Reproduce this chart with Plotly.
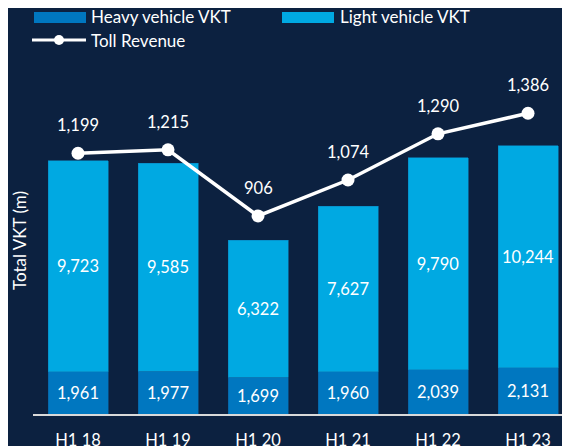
import plotly.graph_objects as go

periods = ["H1 18", "H1 19", "H1 20", "H1 21", "H1 22", "H1 23"]
heavy_vkt = [1961, 1977, 1699, 1960, 2039, 2131]
light_vkt = [9723, 9585, 6322, 7627, 9790, 10244]
toll_revenue = [1199, 1215, 906, 1074, 1290, 1386]

BG = "#0c2140"
HEAVY = "#0077c0"
LIGHT = "#00a9e2"
FONT = "Lato"
OFF = 8  # page body margin offset
W, H = 570, 446
# plot area in window coords: left 33, top 60, bottom 414
L = 33 - OFF
T = 60 - OFF
B = H - (414 - OFF)
R = 0
PW, PH = W - L - R, H - T - B


def px(x):
    return (x - OFF - L) / PW


def py(y):
    return (H - B - (y - OFF)) / PH


fig = go.Figure()
fig.add_trace(go.Bar(
    x=periods, y=heavy_vkt, name="Heavy vehicle VKT",
    marker=dict(color=HEAVY, line=dict(color="#0a5f9c", width=0.6)),
    text=[f"{v:,}" for v in heavy_vkt], textposition="inside",
    insidetextanchor="middle", textfont=dict(color="white", size=16.5, family=FONT),
    showlegend=False,
))
fig.add_trace(go.Bar(
    x=periods, y=light_vkt, name="Light vehicle VKT",
    marker=dict(color=LIGHT, line=dict(color="#0a86c0", width=0.6)),
    text=[f"{v:,}" for v in light_vkt], textposition="inside",
    insidetextanchor="middle", textfont=dict(color="white", size=16.5, family=FONT),
    showlegend=False,
))
fig.add_trace(go.Scatter(
    x=periods, y=toll_revenue, name="Toll Revenue", yaxis="y2",
    mode="lines+markers", line=dict(color="white", width=3.5),
    marker=dict(color="white", size=13), showlegend=False, cliponaxis=False,
))

annotations = []
for p, v in zip(periods, toll_revenue):
    annotations.append(dict(
        x=p, y=v, xref="x", yref="y2", text=f"{v:,}", showarrow=False,
        yshift=28, font=dict(color="white", size=16.5, family=FONT),
    ))

annotations.append(dict(
    x=px(19), y=py(241), xref="paper", yref="paper", text="Total VKT (m)",
    textangle=-90, showarrow=False, xanchor="center", yanchor="middle",
    font=dict(color="white", size=17, family=FONT),
))

# custom legend
shapes = [
    dict(type="rect", xref="paper", yref="paper", x0=px(34), x1=px(86),
         y0=py(23), y1=py(12), fillcolor=HEAVY, line=dict(width=0)),
    dict(type="rect", xref="paper", yref="paper", x0=px(282), x1=px(334),
         y0=py(23), y1=py(12), fillcolor=LIGHT, line=dict(width=0)),
    dict(type="line", xref="paper", yref="paper", x0=px(32), x1=px(86),
         y0=py(40), y1=py(40), line=dict(color="white", width=3)),
    dict(type="circle", xref="paper", yref="paper", x0=px(54), x1=px(64),
         y0=py(45), y1=py(35), fillcolor="white", line=dict(width=0)),
]
for x0, y0, txt in [(89, 17, "Heavy vehicle VKT"), (338, 17, "Light vehicle VKT"),
                    (89, 40, "Toll Revenue")]:
    annotations.append(dict(
        x=px(x0), y=py(y0), xref="paper", yref="paper", text=txt,
        showarrow=False, xanchor="left", yanchor="middle",
        font=dict(color="white", size=17, family=FONT),
    ))

fig.update_layout(
    width=W, height=H, margin=dict(l=L, r=R, t=T, b=B),
    paper_bgcolor=BG, plot_bgcolor=BG, barmode="stack", bargap=1/3,
    font=dict(family=FONT, color="white"),
    xaxis=dict(range=[-0.5, -0.5 + PW / 90], showline=True, linecolor="#d9d9d9",
               linewidth=1.5, showgrid=False, zeroline=False,
               ticks="outside", ticklen=10, tickcolor=BG,
               tickfont=dict(color="white", size=16.5, family=FONT)),
    yaxis=dict(range=[0, 16336], showticklabels=False, showgrid=False,
               zeroline=False, showline=False),
    yaxis2=dict(range=[-19.8, 1635], overlaying="y", side="right",
                showticklabels=False, showgrid=False, zeroline=False,
                showline=False),
    annotations=annotations, shapes=shapes,
)

fig.write_html("out.html")
